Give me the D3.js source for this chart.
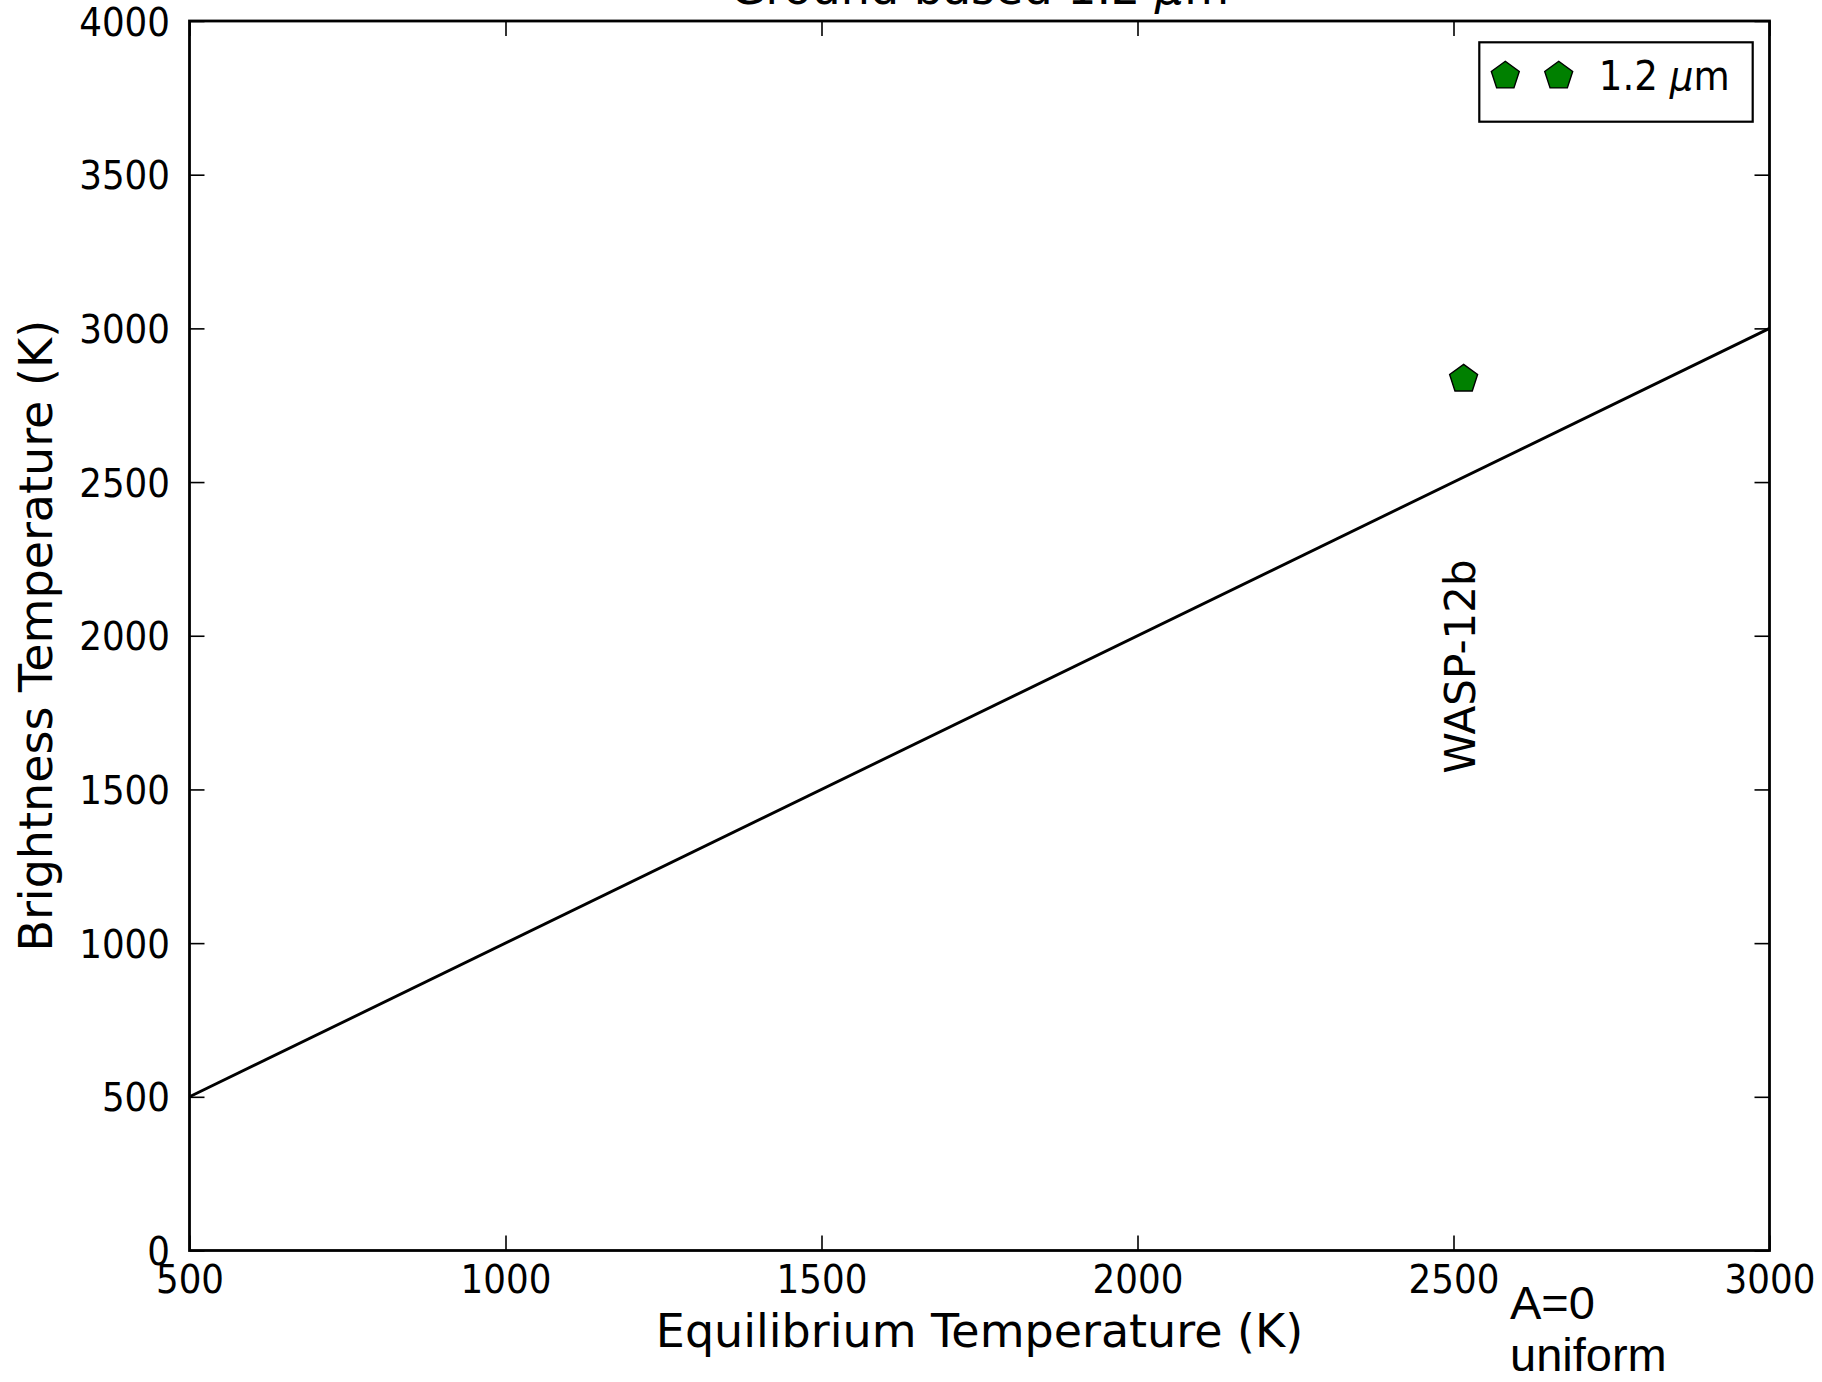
<!DOCTYPE html>
<html>
<head>
<meta charset="utf-8">
<script src="https://cdn.jsdelivr.net/npm/d3@7"></script>
<style>
  html, body { margin: 0; padding: 0; background: #fff; }
  svg { display: block; }
</style>
</head>
<body>
<svg id="chart" width="1822" height="1382"></svg>
<script>
// Planets observed in the ground-based 1.2 micron band
const planets = ["WASP-12b"];
const eqTemps = [2516];      // equilibrium temperature (K)
const brightTemps = [2835];  // brightness temperature (K)

// One-to-one reference line: brightness temperature equals equilibrium temperature
const refLineT = [500, 3000];

const xTicks = [500, 1000, 1500, 2000, 2500, 3000];
const yTicks = [0, 500, 1000, 1500, 2000, 2500, 3000, 3500, 4000];

const legendText = "1.2 ";
const legendUnit = "m";

// ---- layout ----
const W = 1822, H = 1382;
const box = { left: 189.5, right: 1769.5, top: 21, bottom: 1250.5 };
const FONT = "'DejaVu Sans', sans-serif";
const SQUEEZE = 0.915;   // slightly narrow glyphs for tick labels

const svg = d3.select("#chart");
svg.append("rect").attr("width", W).attr("height", H).attr("fill", "#fff");

const x = d3.scaleLinear().domain([500, 3000]).range([box.left, box.right]);
const y = d3.scaleLinear().domain([0, 4000]).range([box.bottom, box.top]);

// ---- axes (inward ticks on all four sides) ----
function styleAxis(g, keepText) {
  g.select(".domain").remove();
  g.attr("font-family", FONT).attr("font-size", 39);
  g.selectAll(".tick line").attr("stroke", "#000").attr("stroke-width", 1.6);
  if (keepText) g.selectAll(".tick text").attr("fill", "#000");
  else g.selectAll(".tick text").remove();
}

svg.append("g")
  .attr("transform", `translate(0,${box.bottom})`)
  .call(d3.axisBottom(x).tickValues(xTicks).tickFormat(d3.format("d"))
    .tickSizeInner(-15).tickSizeOuter(0).tickPadding(15))
  .call(g => styleAxis(g, true))
  .call(g => g.selectAll(".tick text").attr("transform", `scale(${SQUEEZE},1)`));

svg.append("g")
  .attr("transform", `translate(0,${box.top})`)
  .call(d3.axisTop(x).tickValues(xTicks).tickSizeInner(-15).tickSizeOuter(0))
  .call(g => styleAxis(g, false));

svg.append("g")
  .attr("transform", `translate(${box.left},0)`)
  .call(d3.axisLeft(y).tickValues(yTicks).tickFormat(d3.format("d"))
    .tickSizeInner(-15).tickSizeOuter(0).tickPadding(19.5))
  .call(g => styleAxis(g, true))
  .call(g => g.selectAll(".tick text")
    .attr("dy", "0.36em")
    .attr("x", -19.5 / SQUEEZE)
    .attr("transform", `scale(${SQUEEZE},1)`));

svg.append("g")
  .attr("transform", `translate(${box.right},0)`)
  .call(d3.axisRight(y).tickValues(yTicks).tickSizeInner(-15).tickSizeOuter(0))
  .call(g => styleAxis(g, false));

// ---- one-to-one line ----
const line = d3.line().x(d => x(d)).y(d => y(d));
svg.append("path")
  .datum(refLineT)
  .attr("d", line)
  .attr("fill", "none")
  .attr("stroke", "#000")
  .attr("stroke-width", 2.9);

// ---- pentagon marker ----
const pentagon = {
  draw(ctx, size) {
    const r = Math.sqrt(size);
    for (let k = 0; k < 5; k++) {
      const a = -Math.PI / 2 + k * 2 * Math.PI / 5;
      const px = r * Math.cos(a), py = r * Math.sin(a);
      if (k === 0) ctx.moveTo(px, py); else ctx.lineTo(px, py);
    }
    ctx.closePath();
  }
};
const markerPath = d3.symbol().type(pentagon).size(14.7 * 14.7)();

const pts = planets.map((name, i) => ({ name, tEq: eqTemps[i], tB: brightTemps[i] }));

svg.append("g").selectAll("path")
  .data(pts)
  .join("path")
  .attr("d", markerPath)
  .attr("transform", d => `translate(${x(d.tEq)},${y(d.tB)})`)
  .attr("fill", "#008000")
  .attr("stroke", "#000")
  .attr("stroke-width", 1.4);

// planet name, written vertically below its marker
svg.append("g").selectAll("text")
  .data(pts)
  .join("text")
  .attr("transform", d => `translate(${x(d.tEq) + 11},${y(1900)}) rotate(-90)`)
  .attr("text-anchor", "middle")
  .attr("font-family", FONT)
  .attr("font-size", 42)
  .attr("fill", "#000")
  .text(d => d.name);

// ---- frame ----
svg.append("rect")
  .attr("x", box.left).attr("y", box.top)
  .attr("width", box.right - box.left).attr("height", box.bottom - box.top)
  .attr("fill", "none").attr("stroke", "#000").attr("stroke-width", 2.8);

// ---- legend ----
const lg = svg.append("g");
const lgX = box.right - 16.8 - 273.4, lgY = box.top + 21.3;
lg.append("rect")
  .attr("x", lgX).attr("y", lgY).attr("width", 273.4).attr("height", 79.4)
  .attr("fill", "#fff").attr("stroke", "#000").attr("stroke-width", 2.2);
[26, 79.4].forEach(dx => {
  lg.append("path")
    .attr("d", markerPath)
    .attr("transform", `translate(${lgX + dx},${lgY + 33.7})`)
    .attr("fill", "#008000").attr("stroke", "#000").attr("stroke-width", 1.4);
});
const lt = lg.append("text")
  .attr("transform", `translate(${lgX + 119.5},${lgY + 47.7}) scale(0.93,1)`)
  .attr("font-family", FONT).attr("font-size", 40).attr("fill", "#000");
lt.append("tspan").text(legendText);
lt.append("tspan").attr("font-style", "italic").text("\u03bc");
lt.append("tspan").text(legendUnit);

// ---- titles and axis labels ----
const midX = (box.left + box.right) / 2;
const midY = (box.top + box.bottom) / 2;

const title = svg.append("text")
  .attr("x", midX).attr("y", 4)
  .attr("text-anchor", "middle")
  .attr("font-family", FONT).attr("font-size", 46).attr("fill", "#000");
title.append("tspan").text("Ground based 1.2 ");
title.append("tspan").attr("font-style", "italic").text("\u03bc");
title.append("tspan").text("m");

svg.append("text")
  .attr("x", midX).attr("y", 1347)
  .attr("text-anchor", "middle")
  .attr("font-family", FONT).attr("font-size", 46).attr("fill", "#000")
  .text("Equilibrium Temperature (K)");

svg.append("text")
  .attr("transform", `translate(51.5,${midY}) rotate(-90)`)
  .attr("text-anchor", "middle")
  .attr("font-family", FONT).attr("font-size", 46).attr("fill", "#000")
  .text("Brightness Temperature (K)");

// model note in the lower right corner
const note = svg.append("text")
  .attr("font-family", "'Liberation Sans', Arial, sans-serif")
  .attr("font-size", 47).attr("fill", "#000");
note.append("tspan").attr("x", 1510).attr("y", 1319).text("A=0");
note.append("tspan").attr("x", 1510).attr("y", 1371).text("uniform");
</script>
</body>
</html>
